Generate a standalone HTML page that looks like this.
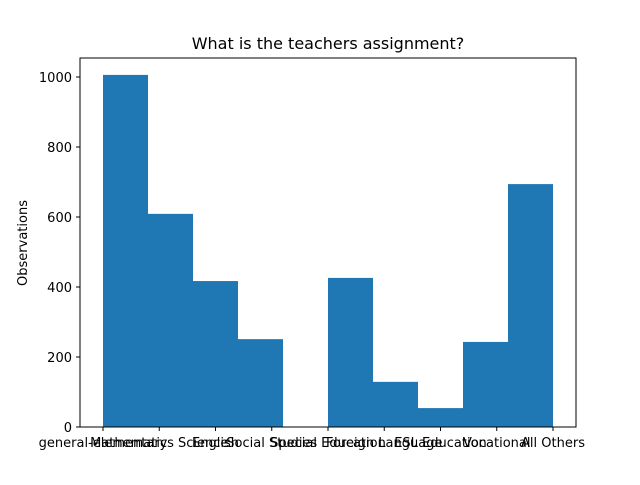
<!DOCTYPE html>
<html><head><meta charset="utf-8"><style>
body{margin:0;background:#fff;}
svg text{font-family:"DejaVu Sans","Liberation Sans",sans-serif;fill:#000;}
</style></head><body>
<svg id="chart" width="640" height="480" xmlns="http://www.w3.org/2000/svg">
<rect width="640" height="480" fill="#fff"/>
<text x="328" y="49" text-anchor="middle" font-size="16">What is the teachers assignment?</text>
<text transform="translate(27,243) rotate(-90)" text-anchor="middle" font-size="13">Observations</text>
<g id="bars"></g>
<g id="yticks"></g>
<g id="xticks"></g>
<rect x="80" y="58" width="496" height="369" fill="none" stroke="#000" stroke-width="1"/>
</svg>
<script>
const categories=["general-elementary","Mathematics Science","English","Social Studies","Special Education","Foreign Language","ESL Education","Vocational","All Others"];
const counts=[1006,609,417,251,0,426,129,54,243,694];
const yTickValues=[0,200,400,600,800,1000];
const NS="http://www.w3.org/2000/svg";
function yScale(v){return 427-v*0.35;}
function xScale(i){return 103+i*56.25;}
function binX(i){return 103+i*45;}
const bars=document.getElementById('bars');
counts.forEach((c,i)=>{
  const r=document.createElementNS(NS,'rect');
  r.setAttribute('x',binX(i));r.setAttribute('width',45);
  r.setAttribute('y',yScale(c));r.setAttribute('height',427-yScale(c));
  r.setAttribute('fill','#1f77b4');
  
  
  bars.appendChild(r);
});
const yt=document.getElementById('yticks');
yTickValues.forEach(v=>{
  const y=yScale(v);
  const l=document.createElementNS(NS,'line');
  l.setAttribute('x1',76);l.setAttribute('x2',80);l.setAttribute('y1',y);l.setAttribute('y2',y);l.setAttribute('stroke','#000');
  
  
  yt.appendChild(l);
  const t=document.createElementNS(NS,'text');
  t.setAttribute('x',72);t.setAttribute('y',y+5);t.setAttribute('text-anchor','end');t.setAttribute('font-size','13');
  t.textContent=v;
  
  
  yt.appendChild(t);
});
const xt=document.getElementById('xticks');
categories.forEach((c,i)=>{
  const x=xScale(i);
  const l=document.createElementNS(NS,'line');
  l.setAttribute('x1',x);l.setAttribute('x2',x);l.setAttribute('y1',427);l.setAttribute('y2',431);l.setAttribute('stroke','#000');
  
  
  xt.appendChild(l);
  const t=document.createElementNS(NS,'text');
  t.setAttribute('x',x);t.setAttribute('y',447);t.setAttribute('text-anchor','middle');t.setAttribute('font-size','13');
  t.textContent=c;
  
  
  xt.appendChild(t);
});
</script>
</body></html>
